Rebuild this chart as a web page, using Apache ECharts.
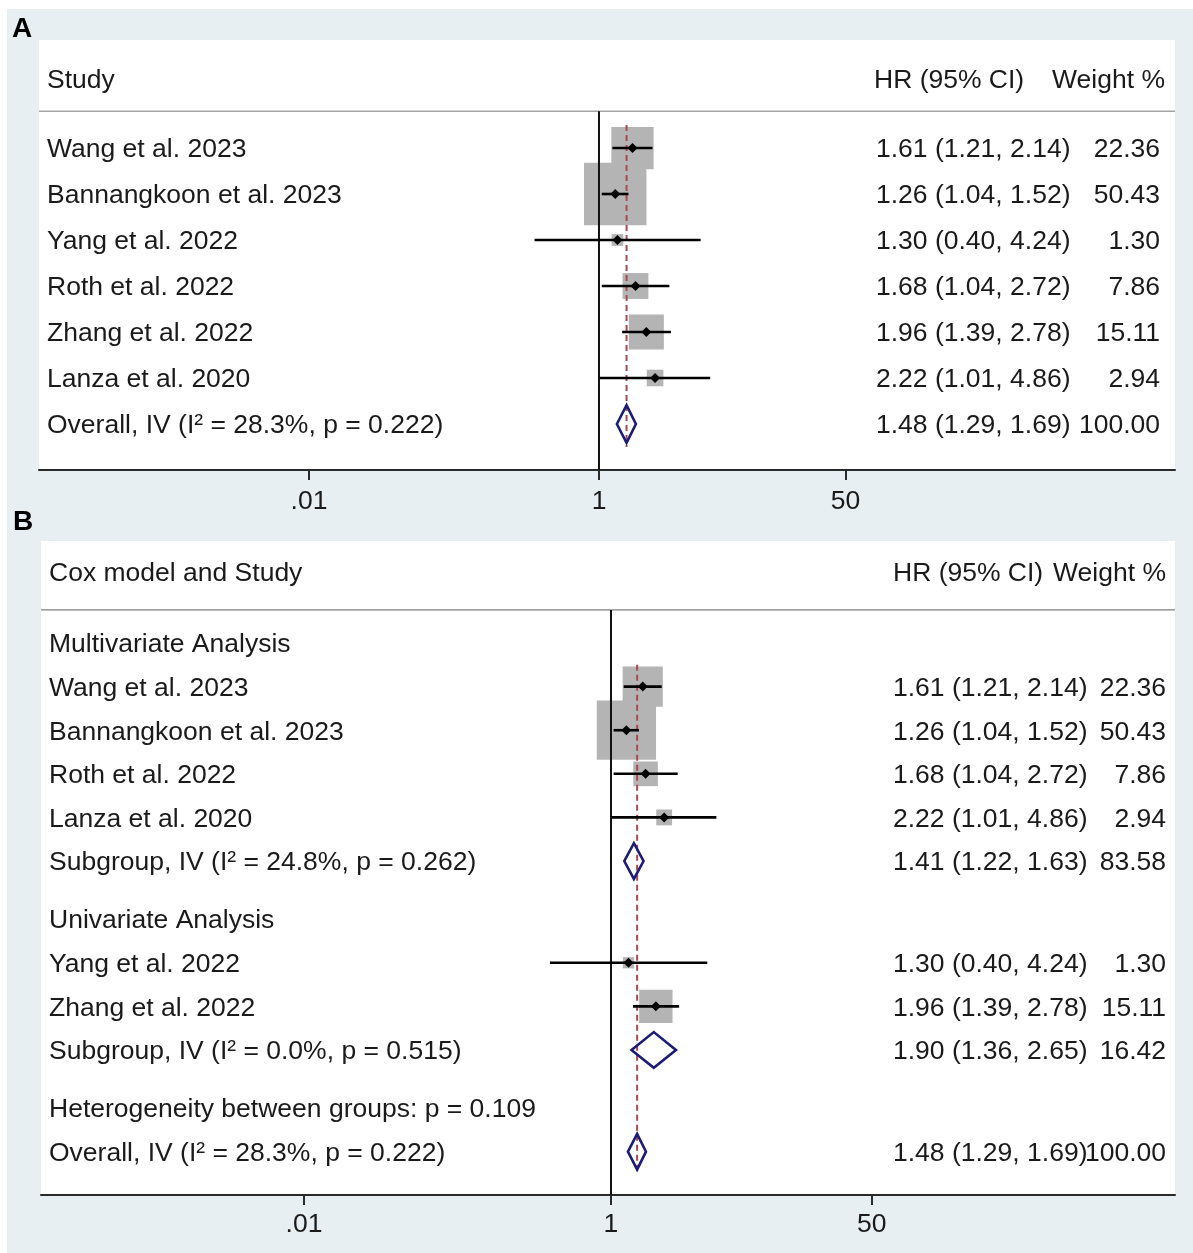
<!DOCTYPE html>
<html>
<head>
<meta charset="utf-8">
<script src="https://cdn.jsdelivr.net/npm/echarts@6/dist/echarts.min.js"></script>
<style>
html, body { margin: 0; padding: 0; background: #fff; }
#forest { width: 1193px; height: 1253px; }
</style>
</head>
<body>
<div id="forest"></div>
<script>
// ---- panel A : all studies ----
const studyA = ['Wang et al. 2023', 'Bannangkoon et al. 2023', 'Yang et al. 2022', 'Roth et al. 2022', 'Zhang et al. 2022', 'Lanza et al. 2020'];
const hrA = [1.61, 1.26, 1.30, 1.68, 1.96, 2.22];
const loA = [1.21, 1.04, 0.40, 1.04, 1.39, 1.01];
const hiA = [2.14, 1.52, 4.24, 2.72, 2.78, 4.86];
const wtA = [22.36, 50.43, 1.30, 7.86, 15.11, 2.94];

// ---- panel B : by Cox model ----
const groupNames = ['Multivariate Analysis', 'Univariate Analysis'];
const studyB = ['Wang et al. 2023', 'Bannangkoon et al. 2023', 'Roth et al. 2022', 'Lanza et al. 2020', 'Yang et al. 2022', 'Zhang et al. 2022'];
const groupB = [0, 0, 0, 0, 1, 1];
const hrB = [1.61, 1.26, 1.68, 2.22, 1.30, 1.96];
const loB = [1.21, 1.04, 1.04, 1.01, 0.40, 1.39];
const hiB = [2.14, 1.52, 2.72, 4.86, 4.24, 2.78];
const wtB = [22.36, 50.43, 7.86, 2.94, 1.30, 15.11];
const subLabel = ['Subgroup, IV (I² = 24.8%, p = 0.262)', 'Subgroup, IV (I² = 0.0%, p = 0.515)'];
const subHr = [1.41, 1.90];
const subLo = [1.22, 1.36];
const subHi = [1.63, 2.65];
const subWt = [83.58, 16.42];
const hetNote = 'Heterogeneity between groups: p = 0.109';

// ---- pooled overall (same in both panels) ----
const overallLabel = 'Overall, IV (I² = 28.3%, p = 0.222)';
const overallHr = 1.48;
const overallLo = 1.29;
const overallHi = 1.69;
const overallWt = 100.00;

// x axis ticks
const tickValues = [0.01, 1, 50];
const tickLabels = ['.01', '1', '50'];

const FONT = '"Liberation Sans", Arial, Helvetica, sans-serif';
const FS = 26.5;
const INK = '#1a1a1a';
const TEXT_DY = 2; // text sits a touch below the row centre
const lg = v => Math.log10(v);
const ciText = (h, l, u) => h.toFixed(2) + ' (' + l.toFixed(2) + ', ' + u.toFixed(2) + ')';

// rows of panel A
const rowsA = [];
studyA.forEach((s, i) => rowsA.push({ kind: 'study', label: s, hr: hrA[i], lo: loA[i], hi: hiA[i], wt: wtA[i], row: i }));
rowsA.push({ kind: 'pooled', overall: true, label: overallLabel, hr: overallHr, lo: overallLo, hi: overallHi, wt: overallWt, row: studyA.length });

// rows of panel B (small gap before each new block)
const rowsB = [];
let r = 0;
groupNames.forEach((g, gi) => {
  rowsB.push({ kind: 'heading', label: g, row: r });
  r += 1;
  studyB.forEach((s, i) => {
    if (groupB[i] !== gi) return;
    rowsB.push({ kind: 'study', label: s, hr: hrB[i], lo: loB[i], hi: hiB[i], wt: wtB[i], row: r });
    r += 1;
  });
  rowsB.push({ kind: 'pooled', label: subLabel[gi], hr: subHr[gi], lo: subLo[gi], hi: subHi[gi], wt: subWt[gi], row: r });
  r += 1 + 1 / 3;
});
rowsB.push({ kind: 'heading', label: hetNote, row: r });
r += 1;
rowsB.push({ kind: 'pooled', overall: true, label: overallLabel, hr: overallHr, lo: overallLo, hi: overallHi, wt: overallWt, row: r });

// layout of the two panels (pixels / axis ranges)
const panels = [
  {
    rows: rowsA, grid: { left: 39, top: 40, width: 1136, height: 430 },
    yRange: [-2.348, 7], xData: [-3.457, 3.556], xTicks: [-3.862, 3.972],
    title: 'Study', hdrRow: -1.5, lineRow: -0.8,
    hrX: 876, hrHdrX: 874, wtRight: 1160, wtHdrRight: 1165, labelMargin: 18
  },
  {
    rows: rowsB, grid: { left: 41, top: 541, width: 1134, height: 654 },
    yRange: [-2.34, 12.66], xData: [-3.713, 3.674], xTicks: [-3.713, 3.674],
    title: 'Cox model and Study', hdrRow: -1.63, lineRow: -0.76,
    hrX: 893, hrHdrX: 893, wtRight: 1166, wtHdrRight: 1166, labelMargin: 16
  }
];

function txt(x, y, text, align, extra) {
  return {
    type: 'text',
    style: Object.assign({ x: x, y: y + TEXT_DY, text: text, fill: INK, font: FS + 'px ' + FONT, align: align, verticalAlign: 'middle' }, extra || {})
  };
}

function renderBoxes(rows) {
  return function (params, api) {
    const d = rows[params.dataIndex];
    if (d.kind !== 'study') return null;
    const unit = Math.abs(api.size([0, 1])[1]);
    const p = api.coord([lg(d.hr), d.row]);
    const side = unit * 0.185 * Math.sqrt(d.wt) + 2; // area ~ weight
    return {
      type: 'rect',
      shape: { x: p[0] - side / 2, y: p[1] - side / 2, width: side, height: side },
      style: { fill: '#b4b4b4' }
    };
  };
}

function renderFrame(cfg) {
  return function (params, api) {
    const cs = params.coordSys;
    const rows = cfg.rows;
    const lineY = api.coord([0, cfg.lineRow])[1];
    const hdrY = api.coord([0, cfg.hdrRow])[1];
    const nullX = api.coord([0, 0])[0];
    const ov = rows.find(d => d.overall);
    const first = rows.find(d => d.kind === 'study');
    const ovX = api.coord([lg(ov.hr), 0])[0];
    return {
      type: 'group',
      children: [
        txt(cs.x + 8, hdrY, cfg.title, 'left'),
        txt(cfg.hrHdrX, hdrY, 'HR (95% CI)', 'left'),
        txt(cfg.wtHdrRight, hdrY, 'Weight %', 'right'),
        { type: 'line', shape: { x1: cs.x, y1: lineY, x2: cs.x + cs.width, y2: lineY }, style: { stroke: '#a3a3a3', lineWidth: 1.6 } },
        { type: 'line', shape: { x1: nullX, y1: lineY, x2: nullX, y2: cs.y + cs.height }, style: { stroke: '#111', lineWidth: 2 } },
        {
          type: 'line',
          shape: { x1: ovX, y1: api.coord([0, first.row - 0.5])[1], x2: ovX, y2: api.coord([0, ov.row + 0.5])[1] },
          style: { stroke: '#a84a4f', lineWidth: 2, lineDash: [6, 4] }
        }
      ]
    };
  };
}

function renderMarks(cfg) {
  return function (params, api) {
    const d = cfg.rows[params.dataIndex];
    const cs = params.coordSys;
    const y = api.coord([0, d.row])[1];
    const unit = Math.abs(api.size([0, 1])[1]);
    const children = [txt(cs.x + 8, y, d.label, 'left')];
    if (d.kind === 'study' || d.kind === 'pooled') {
      const x0 = api.coord([lg(d.lo), d.row])[0];
      const x1 = api.coord([lg(d.hi), d.row])[0];
      const xm = api.coord([lg(d.hr), d.row])[0];
      if (d.kind === 'study') {
        const m = 5;
        children.push({ type: 'line', shape: { x1: x0, y1: y, x2: x1, y2: y }, style: { stroke: '#000', lineWidth: 2.6 } });
        children.push({ type: 'polygon', shape: { points: [[xm - m, y], [xm, y - m], [xm + m, y], [xm, y + m]] }, style: { fill: '#000' } });
      } else {
        const h = unit * 0.41;
        children.push({
          type: 'polygon',
          shape: { points: [[x0, y], [xm, y - h], [x1, y], [xm, y + h]] },
          style: { fill: 'none', stroke: '#1c1c78', lineWidth: 2.6 }
        });
      }
      children.push(txt(cfg.hrX, y, ciText(d.hr, d.lo, d.hi), 'left'));
      children.push(txt(cfg.wtRight, y, d.wt.toFixed(2), 'right'));
    }
    return { type: 'group', children: children };
  };
}

const grids = [], xAxes = [], yAxes = [], series = [];
panels.forEach((cfg, k) => {
  grids.push(Object.assign({ show: true, backgroundColor: '#fff', borderWidth: 0, containLabel: false, outerBoundsMode: 'none' }, cfg.grid));
  // data scale (log10 units), hidden
  xAxes.push({ gridIndex: k, type: 'value', position: 'top', min: cfg.xData[0], max: cfg.xData[1], show: false });
  // tick scale, visible at the bottom
  xAxes.push({
    gridIndex: k, type: 'value', position: 'bottom', min: cfg.xTicks[0], max: cfg.xTicks[1],
    axisLine: { show: true, onZero: false, lineStyle: { color: '#2a2a2a', width: 2 } },
    axisTick: { show: true, customValues: tickValues.map(lg), length: 10, lineStyle: { color: '#2a2a2a', width: 2 } },
    axisLabel: {
      customValues: tickValues.map(lg),
      formatter: v => {
        const i = tickValues.findIndex(t => Math.abs(lg(t) - v) < 1e-6);
        return i >= 0 ? tickLabels[i] : '';
      },
      fontSize: FS, fontFamily: FONT, color: INK, margin: cfg.labelMargin
    },
    splitLine: { show: false }
  });
  yAxes.push({ gridIndex: k, type: 'value', inverse: true, min: cfg.yRange[0], max: cfg.yRange[1], show: false });

  const data = cfg.rows.map(d => [d.hr ? lg(d.hr) : 0, d.row]);
  series.push({ type: 'custom', xAxisIndex: 2 * k, yAxisIndex: k, z: 1, silent: true, renderItem: renderBoxes(cfg.rows), data: data });
  series.push({ type: 'custom', xAxisIndex: 2 * k, yAxisIndex: k, z: 2, silent: true, renderItem: renderFrame(cfg), data: [[0, 0]] });
  series.push({ type: 'custom', xAxisIndex: 2 * k, yAxisIndex: k, z: 3, silent: true, renderItem: renderMarks(cfg), data: data });
});

const chart = echarts.init(document.getElementById('forest'), null, { renderer: 'canvas' });
chart.setOption({
  animation: false,
  backgroundColor: '#e8eff2',
  graphic: [
    { type: 'rect', left: 0, top: 0, shape: { width: 1193, height: 9 }, style: { fill: '#fff' } },
    { type: 'rect', left: 0, top: 0, shape: { width: 7, height: 1253 }, style: { fill: '#fff' } },
    { type: 'text', left: 12, top: 15, style: { text: 'A', font: 'bold 28px ' + FONT, fill: '#000' } },
    { type: 'text', left: 13, top: 508, style: { text: 'B', font: 'bold 28px ' + FONT, fill: '#000' } }
  ],
  grid: grids,
  xAxis: xAxes,
  yAxis: yAxes,
  series: series
});
</script>
</body>
</html>
